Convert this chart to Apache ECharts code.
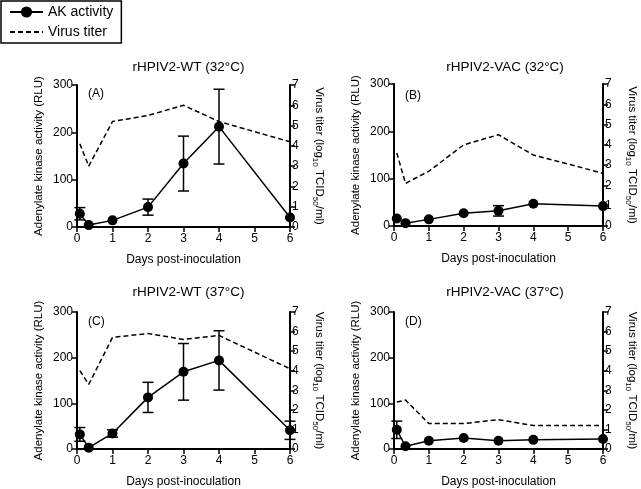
<!DOCTYPE html>
<html>
<head>
<meta charset="utf-8">
<script src="https://cdn.jsdelivr.net/npm/echarts@6/dist/echarts.min.js"></script>
<style>
  html, body { margin: 0; padding: 0; background: #fff; }
  #chart { width: 641px; height: 489px; }
</style>
</head>
<body>
<div id="chart"></div>
<script>
// sampling times (days post-inoculation)
var days = [0.08, 0.33, 1, 2, 3, 4, 6];

var panelTitles = ['rHPIV2-WT (32°C)', 'rHPIV2-VAC (32°C)', 'rHPIV2-WT (37°C)', 'rHPIV2-VAC (37°C)'];
var panelTags = ['(A)', '(B)', '(C)', '(D)'];

// AK activity (RLU) and its error (+/-)
var akA = [28, 4, 14, 42, 134, 212, 20];
var errA = [13, 0, 0, 17, 58, 79, 0];
var akB = [16, 6, 14, 27, 32, 47, 42];
var errB = [0, 0, 0, 0, 11, 0, 0];
var akC = [32, 3, 34, 113, 169, 194, 41];
var errC = [15, 0, 8, 33, 62, 65, 20];
var akD = [42, 6, 18, 24, 18, 20, 22];
var errD = [19, 0, 0, 0, 0, 0, 0];

// virus titer (log10 TCID50/ml)
var titerA = [4.1, 3.0, 5.2, 5.5, 6.0, 5.2, 4.2];
var titerB = [3.6, 2.1, 2.7, 4.0, 4.5, 3.5, 2.6];
var titerC = [4.0, 3.3, 5.7, 5.9, 5.6, 5.8, 4.1];
var titerD = [2.4, 2.5, 1.3, 1.3, 1.5, 1.2, 1.2];

var akTicks = [0, 100, 200, 300];
var titerTicks = [0, 1, 2, 3, 4, 5, 6, 7];
var dayTicks = [0, 1, 2, 3, 4, 5, 6];

var akAll = [akA, akB, akC, akD];
var errAll = [errA, errB, errC, errD];
var titerAll = [titerA, titerB, titerC, titerD];

var FONT = '"Liberation Sans", Arial, sans-serif';
var chart = echarts.init(document.getElementById('chart'));

// plot boxes
var grids = [
  { left: 77, top: 85, width: 213, height: 142 },
  { left: 394, top: 84, width: 212, height: 142 },
  { left: 77, top: 312, width: 213, height: 141 },
  { left: 394, top: 312, width: 212, height: 141 }
];
var titleTops = [55, 55, 280, 280];
var tagTops = [83, 85, 311, 311];

var axisLine = { show: true, lineStyle: { color: '#000', width: 2 } };
var axisTick = { show: true, inside: false, length: 5, lineStyle: { color: '#000', width: 1.5 } };
var label = { color: '#000', fontSize: 12, fontFamily: FONT };

var xAxes = [], yAxes = [], series = [], titles = [];

function errBar(params, api) {
  var x = api.value(0), y = api.value(1), e = api.value(2);
  if (!e) return;
  var top = api.coord([x, y + e]);
  var bot = api.coord([x, y - e]);
  var w = 5.5;
  var st = { stroke: '#000', lineWidth: 1.5 };
  return {
    type: 'group',
    children: [
      { type: 'line', shape: { x1: top[0], y1: top[1], x2: bot[0], y2: bot[1] }, style: st },
      { type: 'line', shape: { x1: top[0] - w, y1: top[1], x2: top[0] + w, y2: top[1] }, style: st },
      { type: 'line', shape: { x1: bot[0] - w, y1: bot[1], x2: bot[0] + w, y2: bot[1] }, style: st }
    ]
  };
}

for (var i = 0; i < 4; i++) {
  var g = grids[i];
  xAxes.push({
    type: 'value', gridIndex: i, min: dayTicks[0], max: dayTicks[dayTicks.length - 1], interval: 1,
    name: 'Days post-inoculation', nameLocation: 'middle', nameGap: 27,
    nameTextStyle: { color: '#000', fontSize: 12, fontFamily: FONT },
    axisLine: axisLine, axisTick: axisTick, axisLabel: Object.assign({ margin: 6 }, label),
    splitLine: { show: false }
  });
  yAxes.push({
    type: 'value', gridIndex: i, position: 'left', min: akTicks[0], max: akTicks[akTicks.length - 1], interval: 100,
    name: 'Adenylate kinase activity (RLU)', nameLocation: 'middle', nameGap: 32, nameRotate: 90,
    nameTextStyle: { color: '#000', fontSize: 11.5, fontFamily: FONT },
    axisLine: axisLine, axisTick: axisTick, axisLabel: Object.assign({ margin: 4 }, label),
    splitLine: { show: false }
  });
  yAxes.push({
    type: 'value', gridIndex: i, position: 'right', min: titerTicks[0], max: titerTicks[titerTicks.length - 1], interval: 1,
    name: 'Virus titer (log{sub|10} TCID{sub|50}/ml)', nameLocation: 'middle', nameGap: 21, nameRotate: -90,
    nameTextStyle: {
      color: '#000', fontSize: 11.5, fontFamily: FONT, lineHeight: 16,
      rich: { sub: { fontSize: 8, fontFamily: FONT, color: '#000', verticalAlign: 'bottom', lineHeight: 16, padding: [6, 0, 0, 0] } }
    },
    axisLine: axisLine, axisTick: axisTick, axisLabel: Object.assign({ margin: 2 }, label),
    splitLine: { show: false }
  });

  var akData = [], errData = [], titerData = [];
  for (var k = 0; k < days.length; k++) {
    akData.push([days[k], akAll[i][k]]);
    errData.push([days[k], akAll[i][k], errAll[i][k]]);
    titerData.push([days[k], titerAll[i][k]]);
  }

  series.push({
    name: 'Virus titer', type: 'line', xAxisIndex: i, yAxisIndex: 2 * i + 1,
    data: titerData, symbol: 'none', silent: true, animation: false,
    itemStyle: { color: '#000' },
    lineStyle: { color: '#000', width: 1.5, type: [5, 3] }, z: 2
  });
  series.push({
    type: 'custom', xAxisIndex: i, yAxisIndex: 2 * i, data: errData,
    renderItem: errBar, silent: true, animation: false, z: 3
  });
  series.push({
    name: 'AK activity', type: 'line', xAxisIndex: i, yAxisIndex: 2 * i,
    data: akData, symbol: 'circle', symbolSize: 10, silent: true, animation: false,
    itemStyle: { color: '#000' }, lineStyle: { color: '#000', width: 1.5 }, z: 4
  });

  titles.push({
    text: panelTitles[i], left: g.left + g.width / 2, top: titleTops[i], textAlign: 'center',
    textStyle: { color: '#000', fontSize: 13.5, fontWeight: 'normal', fontFamily: FONT }
  });
  titles.push({
    text: panelTags[i], left: g.left + 6, top: tagTops[i],
    textStyle: { color: '#000', fontSize: 12, fontWeight: 'normal', fontFamily: FONT }
  });
}

chart.setOption({
  backgroundColor: '#fff',
  animation: false,
  title: titles,
  legend: {
    data: [
      { name: 'AK activity' },
      { name: 'Virus titer', itemStyle: { opacity: 0 } }
    ],
    orient: 'vertical', left: 1, top: 1,
    padding: [4, 8, 4, 8], itemGap: 6, itemWidth: 33, itemHeight: 14,
    borderColor: '#000', borderWidth: 1.5,
    selectedMode: false,
    textStyle: { color: '#000', fontSize: 14, fontFamily: FONT }
  },
  grid: grids,
  xAxis: xAxes,
  yAxis: yAxes,
  series: series
});
</script>
</body>
</html>
